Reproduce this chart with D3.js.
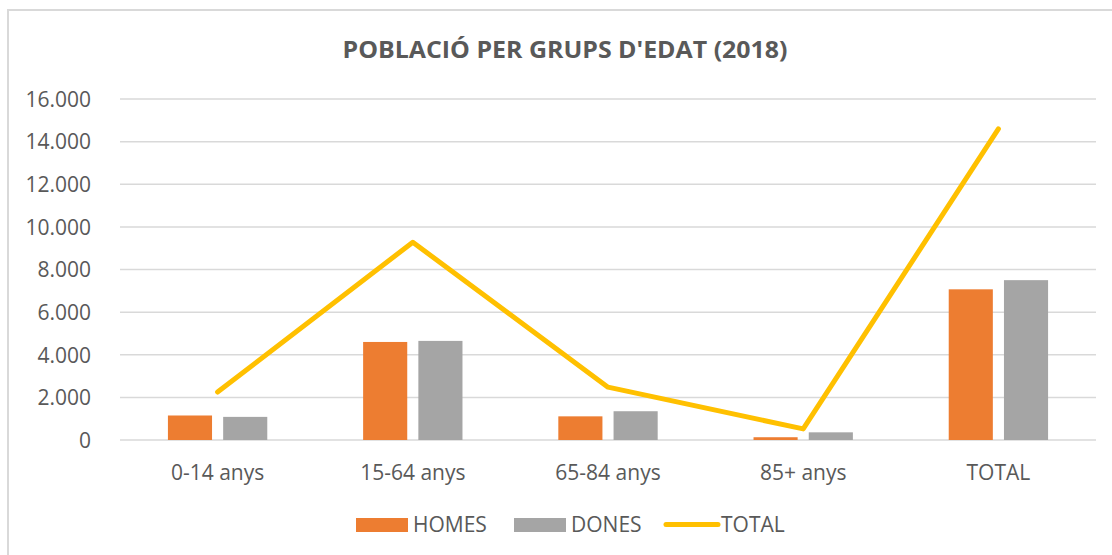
<!DOCTYPE html>
<html><head><meta charset="utf-8">
<script src="https://cdn.jsdelivr.net/npm/d3@7"></script>
<style>
html,body{margin:0;padding:0;background:#fff;}
svg{display:block;font-family:"Open Sans",sans-serif;}
</style></head>
<body><svg id="c" width="1112" height="555"></svg>
<script>
const categories = ["0-14 anys","15-64 anys","65-84 anys","85+ anys","TOTAL"];
const homes = [1150, 4600, 1110, 130, 7070];
const dones = [1085, 4650, 1350, 360, 7500];
const total = [2250, 9280, 2480, 520, 14600];
const yTicks = [0,2000,4000,6000,8000,10000,12000,14000,16000];
const seriesNames = ["HOMES","DONES","TOTAL"];
const colors = {HOMES:"#ED7D31", DONES:"#A5A5A5", TOTAL:"#FFC000"};

(function(){
const svg = d3.select("#c");
const W=1112,H=555;
const pLeft=120,pRight=1096,pTop=99,pBottom=440;
const FS = 21;

svg.append("rect").attr("x",8).attr("y",10).attr("width",W).attr("height",H)
  .attr("fill","none").attr("stroke","#D9D9D9").attr("stroke-width",2);

const title = svg.append("text").attr("x",565).attr("y",58).attr("text-anchor","middle")
  .attr("font-size",23.5).attr("font-weight",700).attr("fill","#595959")
  .text("POBLACIÓ PER GRUPS D'EDAT (2018)");
title.attr("textLength",445).attr("lengthAdjust","spacingAndGlyphs");

const x = d3.scaleBand().domain(categories).range([pLeft,pRight]).padding(0);
const y = d3.scaleLinear().domain([0,16000]).range([pBottom,pTop]);
const fmt = v => d3.format(",")(v).replace(/,/g,".");

svg.append("g").selectAll("line").data(yTicks).join("line")
  .attr("x1",pLeft).attr("x2",pRight)
  .attr("y1",d=>y(d)).attr("y2",d=>y(d))
  .attr("stroke","#D9D9D9").attr("stroke-width",1.5);

const yAxis = d3.axisLeft(y).tickValues(yTicks).tickFormat(fmt).tickSize(0).tickPadding(0);
const gy = svg.append("g").attr("transform",`translate(${91},0)`).call(yAxis);
gy.select(".domain").remove();
gy.selectAll("text").attr("font-size",FS).attr("fill","#595959").attr("font-family","Open Sans").attr("dy","0.35em");

const xAxis = d3.axisBottom(x).tickSize(0).tickPadding(0);
const gx = svg.append("g").attr("transform",`translate(0,${pBottom})`).call(xAxis);
gx.select(".domain").remove();
gx.selectAll("text").attr("font-size",FS).attr("fill","#595959").attr("font-family","Open Sans")
  .attr("dy",null).attr("y",40);

const bw = x.bandwidth();
const barW = bw*0.226, gap = bw*0.057;
const cx = c => x(c)+bw/2;

svg.append("g").selectAll("rect").data(categories).join("rect")
  .attr("x",c=>cx(c)-gap/2-barW).attr("width",barW)
  .attr("y",(c,i)=>y(homes[i])).attr("height",(c,i)=>y(0)-y(homes[i]))
  .attr("fill",colors.HOMES);
svg.append("g").selectAll("rect").data(categories).join("rect")
  .attr("x",c=>cx(c)+gap/2).attr("width",barW)
  .attr("y",(c,i)=>y(dones[i])).attr("height",(c,i)=>y(0)-y(dones[i]))
  .attr("fill",colors.DONES);

const line = d3.line().x((d,i)=>cx(categories[i])).y(d=>y(d));
svg.append("path").datum(total).attr("d",line).attr("fill","none")
  .attr("stroke",colors.TOTAL).attr("stroke-width",5)
  .attr("stroke-linecap","round").attr("stroke-linejoin","round");

const lg = svg.append("g").attr("font-size",FS).attr("fill","#595959");
const items = [
  {n:"HOMES", x:356, type:"rect"},
  {n:"DONES", x:514, type:"rect"},
  {n:"TOTAL", x:664, type:"line"}
];
items.forEach(it=>{
  if(it.type==="rect"){
    lg.append("rect").attr("x",it.x).attr("y",518).attr("width",52).attr("height",14).attr("fill",colors[it.n]);
    lg.append("text").attr("x",it.x+57).attr("y",532).attr("fill","#595959").text(it.n);
  } else {
    lg.append("line").attr("x1",it.x+2).attr("x2",it.x+54).attr("y1",524.5).attr("y2",524.5)
      .attr("stroke",colors.TOTAL).attr("stroke-width",5).attr("stroke-linecap","round");
    lg.append("text").attr("x",it.x+57).attr("y",532).attr("fill","#595959").text(it.n);
  }
});
})();
</script></body></html>
